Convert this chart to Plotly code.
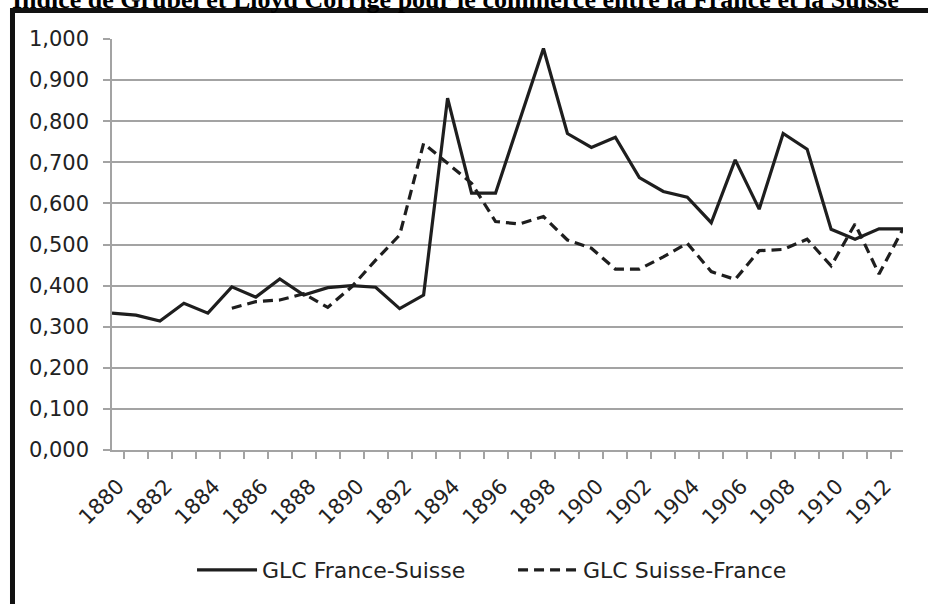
import plotly.graph_objects as go

years = [str(y) for y in range(1880, 1914)]

glc_france_suisse = [
    0.333, 0.328, 0.314, 0.357, 0.333, 0.397, 0.372, 0.416, 0.377, 0.395,
    0.400, 0.396, 0.344, 0.377, 0.856, 0.625, 0.625, 0.802, 0.977, 0.770,
    0.736, 0.761, 0.663, 0.629, 0.615, 0.553, 0.706, 0.586, 0.770, 0.732,
    0.537, 0.513, 0.538, 0.538,
]

glc_suisse_france = [
    None, None, None, None, None, 0.345, 0.361, 0.365, 0.380, 0.347,
    0.397, 0.462, 0.523, 0.746, 0.697, 0.649, 0.556, 0.550, 0.568, 0.511,
    0.491, 0.440, 0.440, 0.470, 0.503, 0.434, 0.415, 0.485, 0.488, 0.513,
    0.448, 0.550, 0.428, 0.538,
]

tick_text = [y if int(y) % 2 == 0 else "" for y in years]

title_text = "Indice de Grubel et Lloyd Corrigé pour le commerce entre la France et la Suisse"

fig = go.Figure()

fig.add_trace(go.Scatter(
    x=years, y=glc_france_suisse, mode="lines",
    name="GLC France-Suisse",
    line=dict(color="#1e1e1e", width=3.2),
))
fig.add_trace(go.Scatter(
    x=years, y=glc_suisse_france, mode="lines",
    name="GLC Suisse-France",
    line=dict(color="#1e1e1e", width=3.2, dash="10px,6px"),
    connectgaps=False,
))

grid = "#a3a3a3"

fig.update_layout(
    width=928, height=604,
    margin=dict(l=112, r=25, t=39, b=154, autoexpand=False),
    paper_bgcolor="white",
    plot_bgcolor="white",
    separators=", ",
    font=dict(family="DejaVu Sans", size=21, color="#222"),
    showlegend=True,
    legend=dict(
        orientation="h", x=0.507, xanchor="center", y=-0.292, yanchor="middle",
        font=dict(family="DejaVu Sans", size=22, color="#222"),
        itemwidth=60, entrywidth=246, entrywidthmode="pixels",
        bgcolor="rgba(0,0,0,0)",
    ),
    xaxis=dict(
        type="category",
        tickmode="array", tickvals=years, ticktext=tick_text,
        tickangle=-45, tickson="boundaries",
        ticks="outside", ticklen=7, tickcolor=grid, tickwidth=1.5,
        showline=True, linecolor=grid, linewidth=1.5,
        showgrid=False, zeroline=False,
        ticklabelstandoff=14, ticklabelshift=6,
        tickfont=dict(family="DejaVu Sans", size=21, color="#222"),
    ),
    yaxis=dict(
        range=[0, 1], dtick=0.1, tickformat=".3f",
        ticks="outside", ticklen=7, tickcolor=grid, tickwidth=1.5,
        showline=True, linecolor=grid, linewidth=1.5,
        showgrid=True, gridcolor=grid, gridwidth=1.5,
        zeroline=False, ticklabelstandoff=10,
        tickfont=dict(family="DejaVu Sans", size=21, color="#222"),
    ),
    annotations=[dict(
        text="<b>" + title_text + "</b>",
        xref="paper", yref="paper", x=0.434, y=1.055,
        xanchor="center", yanchor="bottom", showarrow=False,
        font=dict(family="Liberation Serif", size=26, color="black"),
    )],
    shapes=[dict(
        type="rect", xref="paper", yref="paper",
        x0=-0.1258, x1=1.1, y0=-0.5, y1=1.0693,
        line=dict(color="#111", width=5), layer="above",
    )],
)

# drop the default page margin so the figure sits at the window's corner
fig.write_html(
    "out.html",
    config={"displayModeBar": False},
    post_script="document.body.style.margin='0';",
)
